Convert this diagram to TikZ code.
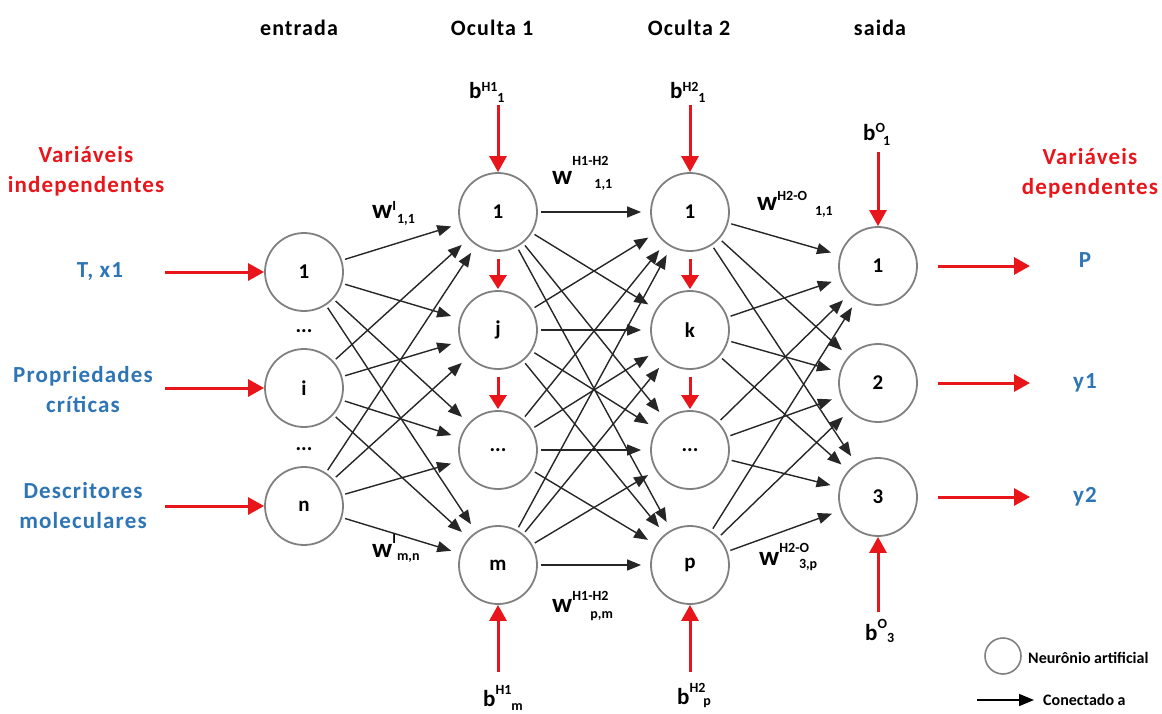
\documentclass[tikz,border=0pt]{standalone}
\usepackage{fontspec}
\setmainfont{Carlito}
\newfontfamily\spaced{Carlito}[LetterSpace=5]
\usetikzlibrary{arrows.meta}
\definecolor{myred}{RGB}{232,22,27}
\definecolor{myblue}{RGB}{46,117,182}
\definecolor{ngray}{RGB}{128,128,128}
% base, sup, sub, raise, lower, kern
\newcommand{\tens}[6]{#1\raisebox{#4pt}{\fontsize{14}{14}\selectfont #2}\kern#6pt\raisebox{-#5pt}{\fontsize{14}{14}\selectfont #3}}
\begin{document}
\begin{tikzpicture}[x=1pt,y=-1pt,
  neuron/.style={circle,draw=ngray,line width=1.8pt,minimum size=78pt,inner sep=0pt,
    font=\fontsize{21}{21}\selectfont\bfseries},
  conn/.style={-{Triangle[length=14pt,width=11pt]},line width=1.4pt,draw=black!85,
    shorten <=3pt,shorten >=9pt},
  redarr/.style={-{Triangle[length=16pt,width=17pt]},line width=3pt,draw=myred},
  title/.style={font=\spaced\fontsize{22}{22}\selectfont\bfseries},
  redlbl/.style={font=\spaced\fontsize{23}{30}\selectfont\bfseries,text=myred,align=center},
  bluelbl/.style={font=\spaced\fontsize{23}{30}\selectfont\bfseries,text=myblue,align=center},
  blbl/.style={font=\fontsize{23}{23}\selectfont\bfseries,inner sep=0pt,anchor=base west},
  wlbl/.style={font=\fontsize{27}{27}\selectfont\bfseries,inner sep=0pt,anchor=base west},
  dots/.style={font=\fontsize{21}{21}\selectfont\bfseries}
]
\useasboundingbox (0,0) rectangle (1162,713);

% titles
\node[title] (t1) at (299,28) {entrada};
\node[title] (t2) at (492,28) {Oculta 1};
\node[title] (t3) at (689,28) {Oculta 2};
\node[title] (t4) at (880,28) {saida};

% neurons
\node[neuron] (i1) at (304,272) {1};
\node[neuron] (i2) at (304,388) {i};
\node[neuron] (i3) at (304,506) {n};
\node[dots] (d1) at (304,331) {...};
\node[dots] (d2) at (304,449) {...};

\node[neuron] (a1) at (498,212) {1};
\node[neuron] (a2) at (498,330) {j};
\node[neuron] (a3) at (498,450) {...};
\node[neuron] (a4) at (498,565) {m};

\node[neuron] (b1) at (690,212) {1};
\node[neuron] (b2) at (690,330) {k};
\node[neuron] (b3) at (690,450) {...};
\node[neuron] (b4) at (690,565) {p};

\node[neuron] (o1) at (878,266) {1};
\node[neuron] (o2) at (878,383) {2};
\node[neuron] (o3) at (878,497) {3};

% connections
\foreach \s in {i1,i2,i3}{\foreach \t in {a1,a2,a3,a4}{\draw[conn] (\s) -- (\t);}}
\foreach \s in {a1,a2,a3,a4}{\foreach \t in {b1,b2,b3,b4}{\draw[conn] (\s) -- (\t);}}
\foreach \s in {b1,b2,b3,b4}{\foreach \t in {o1,o2,o3}{\draw[conn] (\s) -- (\t);}}

% vertical red arrows in hidden layers
\draw[redarr,-{Triangle[length=14pt,width=17pt]},shorten <=7pt,shorten >=1pt] (a1) -- (a2);
\draw[redarr,-{Triangle[length=14pt,width=17pt]},shorten <=7pt,shorten >=1pt] (a2) -- (a3);
\draw[redarr,-{Triangle[length=14pt,width=17pt]},shorten <=7pt,shorten >=1pt] (b1) -- (b2);
\draw[redarr,-{Triangle[length=14pt,width=17pt]},shorten <=7pt,shorten >=1pt] (b2) -- (b3);

% inputs
\node[redlbl] (vi) at (86,171) {Variáveis\\independentes};
\node[bluelbl] (x1) at (100,272) {T, x1};
\node[bluelbl] (x2) at (83,390) {Propriedades\\críticas};
\node[bluelbl] (x3) at (83,506) {Descritores\\moleculares};
\coordinate (s1) at (165,272);
\coordinate (s2) at (165,388);
\coordinate (s3) at (165,506);
\draw[redarr] (s1) -- (i1);
\draw[redarr] (s2) -- (i2);
\draw[redarr] (s3) -- (i3);

% outputs
\node[redlbl] (vd) at (1090,173) {Variáveis\\dependentes};
\node[bluelbl] (y0) at (1085,260) {P};
\node[bluelbl] (y1) at (1085,383) {y1};
\node[bluelbl] (y2) at (1085,497) {y2};
\coordinate (e1) at (1030,266);
\coordinate (e2) at (1030,383);
\coordinate (e3) at (1030,497);
\draw[redarr,shorten <=20pt] (o1) -- (e1);
\draw[redarr,shorten <=20pt] (o2) -- (e2);
\draw[redarr,shorten <=20pt] (o3) -- (e3);

% biases
\coordinate (ba1) at (498,105);
\coordinate (bam) at (498,672);
\coordinate (bb1) at (690,105);
\coordinate (bbp) at (690,672);
\coordinate (bo1) at (878,152);
\coordinate (bo3) at (878,612);
\draw[redarr] (ba1) -- (a1);
\draw[redarr] (bam) -- (a4);
\draw[redarr] (bb1) -- (b1);
\draw[redarr] (bbp) -- (b4);
\draw[redarr] (bo1) -- (o1);
\draw[redarr] (bo3) -- (o3);

\node[blbl] (lba1) at (469,98) {\tens{b}{H1}{1}{7}{4}{0}};
\node[blbl] (lbb1) at (670,98) {\tens{b}{H2}{1}{7}{4}{0}};
\node[blbl] (lbo1) at (863,140) {\tens{b}{O}{1}{8}{5}{-2}};
\node[blbl] (lbam) at (483,706) {\tens{b}{H1}{m}{12}{4}{0}};
\node[blbl] (lbbp) at (677,704) {\tens{b}{H2}{p}{12}{1}{-2}};
\node[blbl] (lbo3) at (865,640) {\tens{b}{O}{3}{12}{2}{0}};

% weights
\node[wlbl] (w1) at (372,218) {\tens{w}{I}{1,1}{8}{5}{1}};
\node[wlbl] (w2) at (372,557) {\tens{w}{I}{m,n}{14}{3}{1}};
\node[wlbl] (w3) at (552,184) {\tens{w}{H1-H2}{1,1}{19}{4}{-14}};
\node[wlbl] (w4) at (552,612) {\tens{w}{H1-H2}{p,m}{12}{6}{-18}};
\node[wlbl] (w5) at (757,210) {\tens{w}{H2-O}{1,1}{10}{5}{8}};
\node[wlbl] (w6) at (759,565) {\tens{w}{H2-O}{3,p}{13}{3}{-10}};

% legend
\node[neuron,minimum size=36pt,line width=1.6pt] (lg) at (1003,656) {};
\node[anchor=west,font=\fontsize{16}{16}\selectfont\bfseries,inner sep=0pt] (lgt) at (1028,658) {Neurônio artificial};
\coordinate (la) at (977,700);
\coordinate (lb) at (1034,700);
\draw[-{Triangle[length=15pt,width=12pt]},line width=1.6pt] (la) -- (lb);
\node[anchor=west,font=\fontsize{16}{16}\selectfont\bfseries,inner sep=0pt] (lct) at (1043,700) {Conectado a};
\end{tikzpicture}
\end{document}
